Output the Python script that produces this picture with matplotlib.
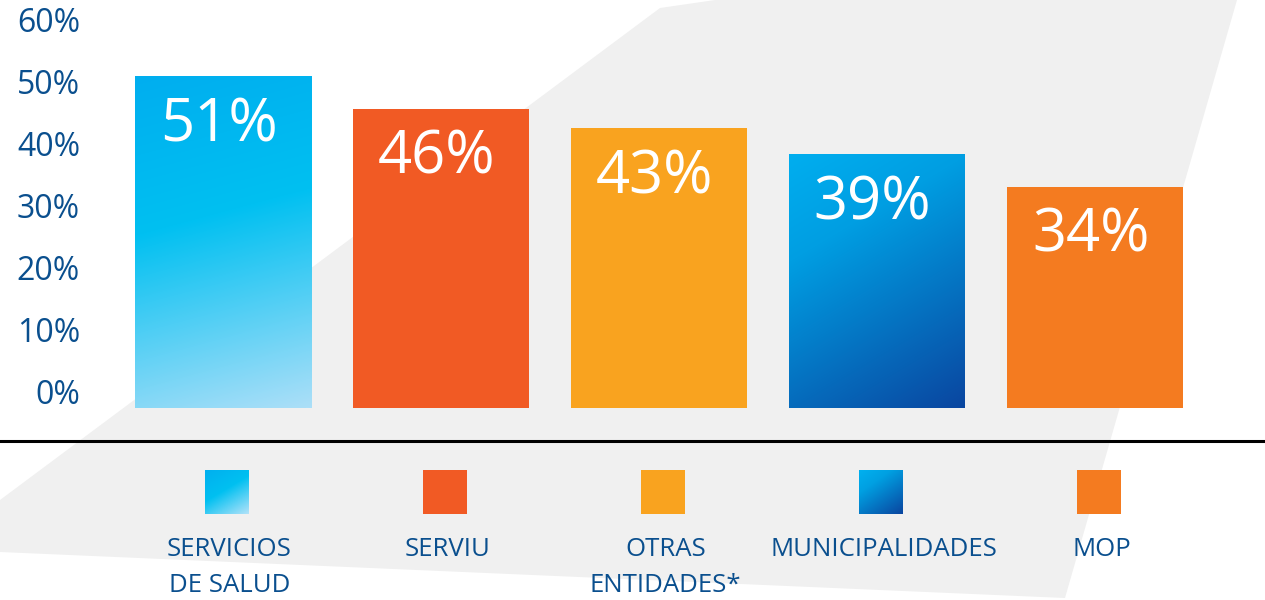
import numpy as np
import matplotlib
matplotlib.use("Agg")
from matplotlib import pyplot as plt
from matplotlib.colors import LinearSegmentedColormap
from matplotlib.patches import Polygon, Rectangle
from matplotlib.lines import Line2D

# data
categories = ["SERVICIOS\nDE SALUD", "SERVIU", "OTRAS\nENTIDADES*", "MUNICIPALIDADES", "MOP"]
values = [51, 46, 43, 39, 34]
tick_values = [0, 10, 20, 30, 40, 50, 60]
tick_labels = [f"{v}%" for v in tick_values]

# layout (pixels of a 1265x600 canvas)
W, H, DPI = 1265, 600, 100
X_FIRST = 223      # centre of first bar
X_STEP = 218       # distance between bar centres
BAR_W = 176 / X_STEP
PX_PER_PCT = 6.5
BASE_Y = 192       # bar baseline, from bottom
LEGEND_SQ = 44

TEXT_BLUE = "#0a4f8e"
GREY_BG = "#f0f0f0"
FONT = ["Open Sans", "DejaVu Sans"]

# solid colour, or gradient stops with a direction (dx, dy) in pixels, y downwards
fills = [
    {"stops": [(0, "#00aeef"), (0.42, "#00c0f1"), (1, "#acdff8")], "dir": (0.27, 1.0)},
    "#f15a24",
    "#f9a31f",
    {"stops": [(0, "#00aeef"), (0.3, "#009ee2"), (1, "#0a46a0")], "dir": (0.6, 1.0)},
    "#f47b20",
]
legend_fills = [
    {"stops": [(0, "#00b0ef"), (0.45, "#00c0f1"), (1, "#b0e2f9")], "dir": (0.6, 1.0)},
    "#f15a24",
    "#f9a31f",
    {"stops": [(0, "#00b0ef"), (0.3, "#00a0e2"), (1, "#0a46a0")], "dir": (0.7, 1.0)},
    "#f47b20",
]

plt.rcParams["font.family"] = FONT


def gradient_image(w_px, h_px, stops, direction):
    cmap = LinearSegmentedColormap.from_list("grad", stops)
    nx, ny = max(int(w_px), 2), max(int(h_px), 2)
    xx, yy = np.meshgrid(np.linspace(0, w_px, nx), np.linspace(0, h_px, ny))
    t = xx * direction[0] + yy * direction[1]
    t = (t - t.min()) / (t.max() - t.min())
    return cmap(t)


def fill_rect(ax, x0, y0, w, h, fill, w_px, h_px, zorder=3):
    if isinstance(fill, str):
        ax.add_patch(Rectangle((x0, y0), w, h, facecolor=fill, edgecolor="none", zorder=zorder))
        return
    img = gradient_image(w_px, h_px, fill["stops"], fill["dir"])
    ax.imshow(img, extent=(x0, x0 + w, y0, y0 + h), origin="upper",
              aspect="auto", interpolation="bilinear", zorder=zorder)


fig = plt.figure(figsize=(W / DPI, H / DPI), dpi=DPI)
fig.patch.set_facecolor("white")

# grey backdrop shape
shape_px = [(715, 0), (1237, 0), (1065, 598), (0, 552), (0, 500), (660, 8)]
fig.patches.append(Polygon([(x / W, 1 - y / H) for x, y in shape_px], closed=True,
                           transform=fig.transFigure, facecolor=GREY_BG,
                           edgecolor="none", zorder=-5))

x_lim = (-X_FIRST / X_STEP, (W - X_FIRST) / X_STEP)

# bars
ax = fig.add_axes([0, BASE_Y / H, 1, (H - BASE_Y) / H])
ax.set_xlim(*x_lim)
ax.set_ylim(0, (H - BASE_Y) / PX_PER_PCT)
ax.axis("off")
ax.patch.set_alpha(0)

for i, (v, fill) in enumerate(zip(values, fills)):
    fill_rect(ax, i - BAR_W / 2, 0, BAR_W, v, fill, BAR_W * X_STEP, v * PX_PER_PCT)
    ax.annotate(f"{v}%", xy=(i - 0.02, v), xytext=(0, -49 * 72 / DPI),
                textcoords="offset points", ha="center", va="center",
                color="white", fontsize=43, zorder=5)

# y tick labels (drawn on their own scale, as in the original artwork)
tax = fig.add_axes([80 / W, 208 / H, 10 / W, 372 / H])
tax.set_ylim(tick_values[0], tick_values[-1])
tax.set_yticks(tick_values)
tax.set_yticklabels(tick_labels)
tax.set_xticks([])
tax.tick_params(axis="y", length=0, pad=0, labelsize=23, labelcolor=TEXT_BLUE)
for s in tax.spines.values():
    s.set_visible(False)
tax.patch.set_alpha(0)

# separator line
fig.lines.append(Line2D([0, 1], [1 - 441 / H] * 2, transform=fig.transFigure,
                        color="black", lw=2.2, zorder=2))

# legend row
lax = fig.add_axes([0, 0, 1, BASE_Y / H])
lax.set_xlim(*x_lim)
lax.set_ylim(0, BASE_Y)
lax.axis("off")
lax.patch.set_alpha(0)
sq_w = LEGEND_SQ / X_STEP
for i, (name, fill) in enumerate(zip(categories, legend_fills)):
    fill_rect(lax, i + 0.02 - sq_w / 2, 86, sq_w, LEGEND_SQ, fill, LEGEND_SQ, LEGEND_SQ)
    lax.text(i + 0.03, 63, name, ha="center", va="top", fontsize=18.5,
             color=TEXT_BLUE, linespacing=1.6)

fig.savefig("out.png", dpi=DPI)
